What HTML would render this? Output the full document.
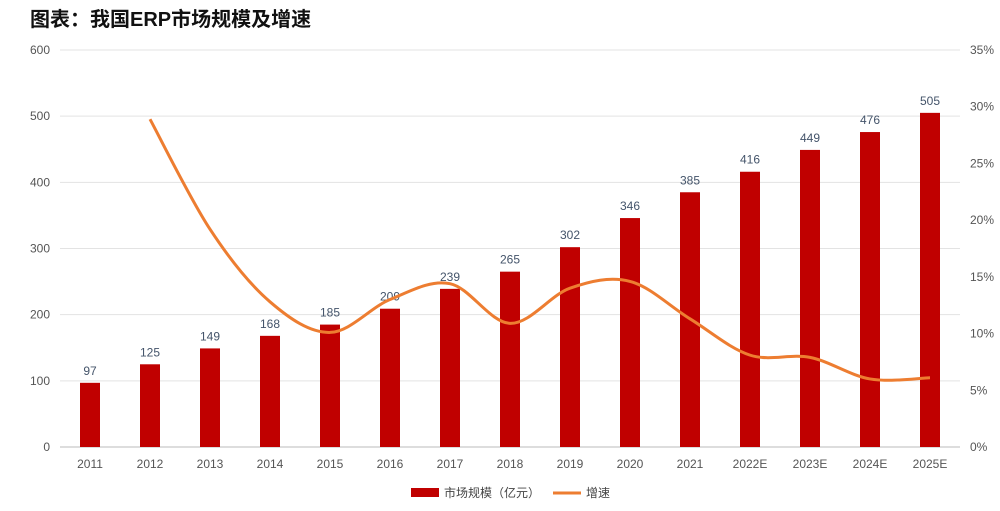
<!DOCTYPE html>
<html><head><meta charset="utf-8"><style>
body{margin:0;background:#fff;width:1000px;height:506px;overflow:hidden;font-family:"Liberation Sans","Noto Sans CJK SC",sans-serif}
</style></head><body>
<svg id="c" width="1000" height="506" xmlns="http://www.w3.org/2000/svg">
<text x="30" y="26" font-size="20" font-weight="bold" fill="#111" font-family="Liberation Sans, Noto Sans CJK SC, sans-serif">图表：我国ERP市场规模及增速</text>
<g id="grid"></g><g id="bars"></g><g id="line"></g><g id="axes"></g>
<g>
<rect x="411" y="488" width="28" height="9" fill="#C00000"/>
<text x="444" y="497" font-size="12" fill="#444">市场规模（亿元）</text>
<line x1="553" y1="493" x2="581" y2="493" stroke="#ED7D31" stroke-width="3"/>
<text x="586" y="497" font-size="12" fill="#444">增速</text>
</g>
</svg>
<script>
const categories=["2011","2012","2013","2014","2015","2016","2017","2018","2019","2020","2021","2022E","2023E","2024E","2025E"];
const sizes=[97,125,149,168,185,209,239,265,302,346,385,416,449,476,505];
const growth=[null,28.9,19.2,12.8,10.1,13.0,14.4,10.9,14.0,14.6,11.3,8.1,7.9,6.0,6.1];
const leftTicks=[0,100,200,300,400,500,600];
const rightTicks=[0,5,10,15,20,25,30,35];
const NS="http://www.w3.org/2000/svg";
const x0=60,x1=960,yB=447,yT=50;
const xs=i=>x0+(x1-x0)/categories.length*(i+0.5);
const yL=v=>yB-(v/600)*(yB-yT);
const yR=v=>yB-(v/35)*(yB-yT);
function mk(p,t,a){const e=document.createElementNS(NS,t);for(const k in a)e.setAttribute(k,a[k]);p.appendChild(e);return e;}
const grid=document.getElementById('grid'),axes=document.getElementById('axes'),bars=document.getElementById('bars'),line=document.getElementById('line');
leftTicks.forEach(v=>{
 const g=mk(grid,'line',{x1:x0,x2:x1,y1:yL(v),y2:yL(v),stroke:v===0?'#bbb':'#e3e3e3','stroke-width':1});
 
 
 const t=mk(axes,'text',{x:50,y:yL(v)+4,'font-size':12,fill:'#555','text-anchor':'end'});t.textContent=v;
 
 
});
rightTicks.forEach(v=>{
 const t=mk(axes,'text',{x:970,y:yR(v)+4,'font-size':12,fill:'#555'});t.textContent=v+'%';
 
 
});
categories.forEach((c,i)=>{
 const t=mk(axes,'text',{x:xs(i),y:468,'font-size':12,fill:'#555','text-anchor':'middle'});t.textContent=c;
 
 
 const b=mk(bars,'rect',{x:xs(i)-10,y:yL(sizes[i]),width:20,height:yB-yL(sizes[i]),fill:'#C00000'});
 
 
 const l=mk(bars,'text',{x:xs(i),y:yL(sizes[i])-8,'font-size':12,fill:'#44546A','text-anchor':'middle'});l.textContent=sizes[i];
 
 
});
const pts=[];growth.forEach((g,i)=>{if(g!==null)pts.push([xs(i),yR(g)]);});
let d='M'+pts[0][0]+','+pts[0][1];
for(let i=0;i<pts.length-1;i++){
 const p0=pts[i-1]||pts[i],p1=pts[i],p2=pts[i+1],p3=pts[i+2]||p2;
 const c1=[p1[0]+(p2[0]-p0[0])/6,p1[1]+(p2[1]-p0[1])/6],c2=[p2[0]-(p3[0]-p1[0])/6,p2[1]-(p3[1]-p1[1])/6];
 d+=' C'+c1+' '+c2+' '+p2;
}
const pl=mk(line,'path',{d:d,fill:'none',stroke:'#ED7D31','stroke-width':3});


</script>
</body></html>
